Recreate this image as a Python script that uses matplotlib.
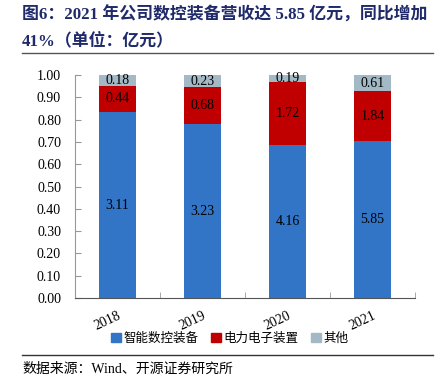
import numpy as np
import matplotlib.pyplot as plt
from matplotlib.patches import Patch

plt.rcParams['font.family'] = ['Liberation Serif', 'Noto Sans CJK SC']

years = ['2018', '2019', '2020', '2021']
cnc = [3.11, 3.23, 4.16, 5.85]      # 智能数控装备
power = [0.44, 0.68, 1.72, 1.84]    # 电力电子装置
other = [0.18, 0.23, 0.19, 0.61]    # 其他
names = ['智能数控装备', '电力电子装置', '其他']
colors = ['#3274C6', '#C00000', '#A3B9C6']

series = np.array([cnc, power, other])
share = series / series.sum(axis=0)

fig = plt.figure(figsize=(4.41, 3.83), dpi=100)
ax = fig.add_axes([0.170, 0.222, 0.771, 0.582])

x = np.arange(len(years))
bottom = np.zeros(len(years))
for i in range(3):
    ax.bar(x, share[i], 0.435, bottom=bottom, color=colors[i], label=names[i])
    for j in range(len(years)):
        ax.text(x[j], bottom[j] + share[i][j] / 2, f'{series[i][j]:.2f}',
                ha='center', va='center', fontsize=10, color='black')
    bottom += share[i]

ax.set_xlim(-0.5, 3.5)
ax.set_ylim(0, 1)
ax.set_yticks(np.arange(0, 1.01, 0.1))
ax.set_yticklabels([f'{v:.2f}' for v in np.arange(0, 1.01, 0.1)], fontsize=10)
ax.set_xticks(x)
ax.set_xticklabels(years, fontsize=10, rotation=25, ha='right',
                   rotation_mode='anchor')
ax.set_xticks(np.arange(-0.5, 3.6, 1), minor=True)
ax.tick_params(axis='x', which='major', length=0, pad=8)
ax.tick_params(axis='x', which='minor', direction='in', length=4, color='#999999')
ax.tick_params(axis='y', direction='in', length=4, color='#999999', pad=10)
for s in ['top', 'right']:
    ax.spines[s].set_visible(False)
ax.spines['left'].set_color('#999999')
ax.spines['bottom'].set_color('#555555')

handles = [Patch(color=c) for c in colors]
fig.legend(handles, names, loc='center', bbox_to_anchor=(0.52, 0.115), ncol=3,
           frameon=False, fontsize=9, handlelength=0.8, handleheight=0.8,
           handletextpad=0.2, columnspacing=1.0)

navy = '#1F2A6B'
fig.text(0.05, 0.96, '图6：2021 年公司数控装备营收达 5.85 亿元，同比增加',
         fontsize=12.2, fontweight='bold', color=navy, va='center')
fig.text(0.05, 0.893, '41%（单位：亿元）',
         fontsize=12.2, fontweight='bold', color=navy, va='center')
fig.add_artist(plt.Line2D([0.05, 0.982], [0.862, 0.862], color='#555555', lw=1))
fig.add_artist(plt.Line2D([0.05, 0.982], [0.073, 0.073], color='#333333', lw=1))
fig.text(0.05, 0.036, '数据来源：Wind、开源证券研究所', fontsize=10, va='center')

plt.savefig('out.png')
